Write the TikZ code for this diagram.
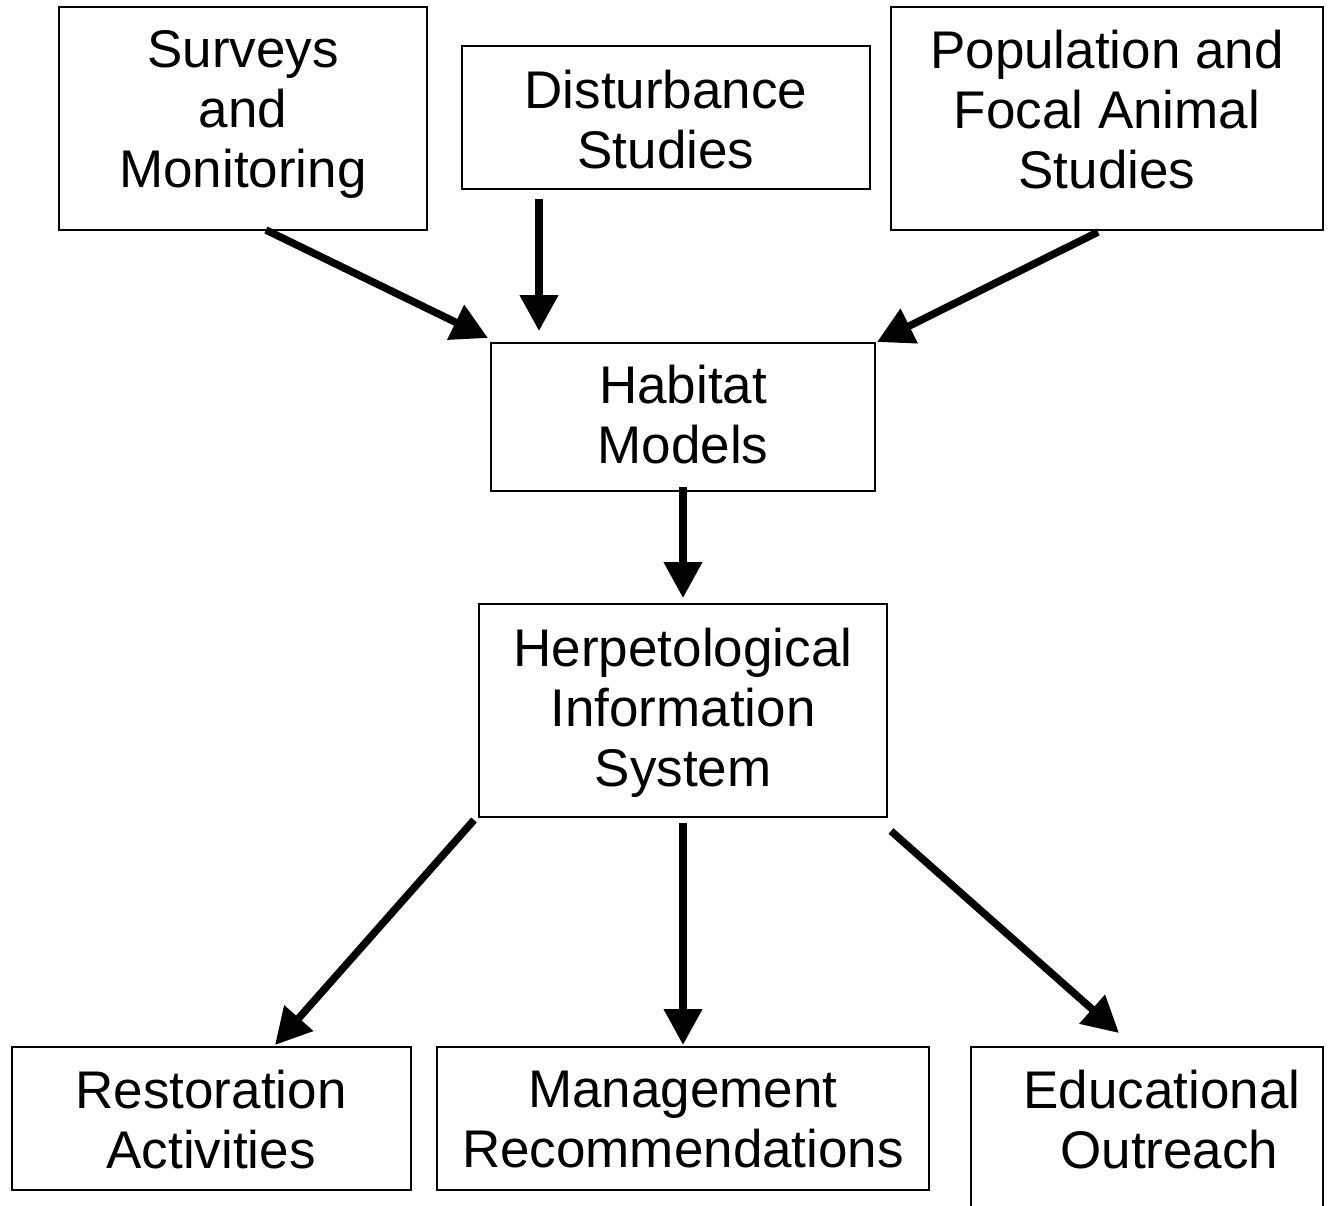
\documentclass[tikz,border=0pt]{standalone}
\usepackage{fontspec}
\setmainfont{Liberation Sans}
\usetikzlibrary{arrows.meta}
\begin{document}
\begin{tikzpicture}[x=1pt,y=-1pt,
  boxnode/.style={draw=black,line width=1.6pt,inner sep=0pt,fill=none},
  txt/.style={align=center,inner sep=0pt,font=\fontsize{53}{60}\selectfont},
  flow/.style={line width=7.5pt,-{Triangle[length=36pt,width=37pt]}}]
\useasboundingbox (0,0) rectangle (1329,1205);
\clip (0,0) rectangle (1329,1205);
% boxes
\node[boxnode,minimum width=368pt,minimum height=223pt] (surv) at (243,118.5) {};
\node[boxnode,minimum width=408pt,minimum height=143pt] (dist) at (666,117.5) {};
\node[boxnode,minimum width=432pt,minimum height=223pt] (pop) at (1107,118.5) {};
\node[boxnode,minimum width=384pt,minimum height=148pt] (hab) at (683,417) {};
\node[boxnode,minimum width=408pt,minimum height=213pt] (herp) at (683,710.5) {};
\node[boxnode,minimum width=399pt,minimum height=143pt] (rest) at (211.5,1118.5) {};
\node[boxnode,minimum width=492pt,minimum height=143pt] (mgmt) at (683,1118.5) {};
\node[boxnode,minimum width=352pt,minimum height=175pt] (edu) at (1147,1134.5) {};
% texts
\node[txt] (surv-t) at (243,114) {Surveys\\and\\Monitoring};
\node[txt] (dist-t) at (666,120) {Disturbance\\Studies};
\node[txt] (pop-t) at (1107,110) {Population and\\Focal Animal\\Studies};
\node[txt] (hab-t) at (683,415) {Habitat\\Models};
\node[txt] (herp-t) at (683,713) {Herpetological\\Information\\System};
\node[txt] (rest-t) at (211,1120) {Restoration\\Activities};
\node[txt] (mgmt-t) at (683,1120) {Management\\Recommendations};
\node[txt] (edu-t) at (1162,1120) {Educational\\\hspace*{0.28em}Outreach};
% arrow end points
\coordinate (a1s) at (266,230);  \coordinate (a1e) at (488,338);
\coordinate (a2s) at (539,199);  \coordinate (a2e) at (539,331);
\coordinate (a3s) at (1098,232); \coordinate (a3e) at (877,342);
\coordinate (a4s) at (683,487);  \coordinate (a4e) at (683,598);
\coordinate (a5s) at (474,820);  \coordinate (a5e) at (275,1045);
\coordinate (a6s) at (683,823);  \coordinate (a6e) at (683,1045);
\coordinate (a7s) at (891,831);  \coordinate (a7e) at (1119,1033);
\draw[flow] (a1s) -- (a1e);
\draw[flow] (a2s) -- (a2e);
\draw[flow] (a3s) -- (a3e);
\draw[flow] (a4s) -- (a4e);
\draw[flow] (a5s) -- (a5e);
\draw[flow] (a6s) -- (a6e);
\draw[flow] (a7s) -- (a7e);
\end{tikzpicture}
\end{document}
